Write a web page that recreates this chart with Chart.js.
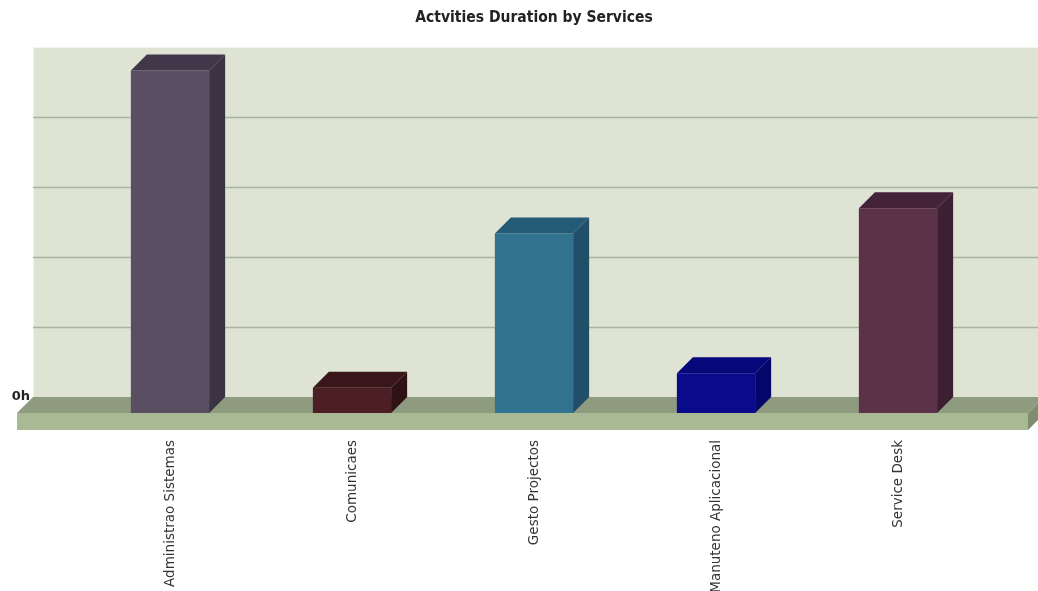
<!DOCTYPE html>
<html lang="en">
  <head>
    <meta charset="UTF-8" />
    <title>Actvities Duration by Services</title>
    <script src="https://cdn.jsdelivr.net/npm/chart.js"></script>
    <style>
      html, body { margin: 0; padding: 0; background: #fff; }
      #wrap { width: 1038px; height: 591px; }
    </style>
  </head>
  <body>
    <div id="wrap"><canvas id="services"></canvas></div>

    <script>
      // data
      const categories = ['Administrao Sistemas', 'Comunicaes', 'Gesto Projectos', 'Manuteno Aplicacional', 'Service Desk'];
      const hours = [4.9, 0.36, 2.57, 0.57, 2.93];
      const yTicks = [0, 1, 2, 3, 4, 5];
      const yTickLabels = ['0h', '', '', '', '', ''];

      // colours: front / top / side of each 3d bar
      const frontColors = ['#5a4e63', '#4c1f24', '#31728f', '#090b8b', '#5c3249'];
      const topColors = ['#40374a', '#381619', '#255a76', '#05077a', '#44233a'];
      const sideColors = ['#3b3342', '#2f1215', '#214f67', '#04066a', '#3c1f33'];

      const depth = 16;

      // back wall, grid lines and floor slab
      const wallPlugin = {
        id: 'wall',
        beforeDatasetsDraw(chart) {
          const ctx = chart.ctx;
          const area = chart.chartArea;
          const y = chart.scales.y;
          const wallLeft = area.left - 46;
          const wallRight = chart.width;
          const zero = y.getPixelForValue(0);

          ctx.save();
          // wall
          ctx.fillStyle = '#dee3d4';
          ctx.fillRect(wallLeft, y.getPixelForValue(5) - depth, wallRight - wallLeft, zero - y.getPixelForValue(5));
          ctx.strokeStyle = '#eef1e8';
          ctx.lineWidth = 1;
          ctx.beginPath();
          ctx.moveTo(wallLeft + 0.5, y.getPixelForValue(5) - depth);
          ctx.lineTo(wallLeft + 0.5, zero - depth);
          ctx.stroke();

          // grid lines on the wall
          ctx.strokeStyle = '#a9b49a';
          ctx.lineWidth = 1.5;
          yTicks.forEach((v) => {
            if (v === 0 || v === 5) return;
            const py = Math.round(y.getPixelForValue(v) - depth) + 0.5;
            ctx.beginPath();
            ctx.moveTo(wallLeft, py);
            ctx.lineTo(wallRight, py);
            ctx.stroke();
          });

          // floor: top face
          const fl = wallLeft - depth;
          const fr = area.right + 39;
          ctx.fillStyle = '#8e9b7f';
          ctx.beginPath();
          ctx.moveTo(fl, zero);
          ctx.lineTo(fl + depth, zero - depth);
          ctx.lineTo(fr + depth, zero - depth);
          ctx.lineTo(fr, zero);
          ctx.closePath();
          ctx.fill();
          // floor: front face
          ctx.fillStyle = '#a9b993';
          ctx.fillRect(fl, zero, fr - fl, 17);
          // floor: right side
          ctx.fillStyle = '#7f8c6f';
          ctx.beginPath();
          ctx.moveTo(fr, zero);
          ctx.lineTo(fr + depth, zero - depth);
          ctx.lineTo(fr + depth, zero - depth + 17);
          ctx.lineTo(fr, zero + 17);
          ctx.closePath();
          ctx.fill();
          ctx.restore();
        },
        // top and side faces of each bar
        afterDatasetsDraw(chart) {
          const ctx = chart.ctx;
          const meta = chart.getDatasetMeta(0);
          ctx.save();
          meta.data.forEach((bar, i) => {
            const left = bar.x - bar.width / 2;
            const right = bar.x + bar.width / 2;
            ctx.fillStyle = topColors[i];
            ctx.beginPath();
            ctx.moveTo(left, bar.y);
            ctx.lineTo(left + depth, bar.y - depth);
            ctx.lineTo(right + depth, bar.y - depth);
            ctx.lineTo(right, bar.y);
            ctx.closePath();
            ctx.fill();

            ctx.fillStyle = sideColors[i];
            ctx.beginPath();
            ctx.moveTo(right, bar.y);
            ctx.lineTo(right + depth, bar.y - depth);
            ctx.lineTo(right + depth, bar.base - depth);
            ctx.lineTo(right, bar.base);
            ctx.closePath();
            ctx.fill();
          });
          ctx.restore();
        },
      };

      const config = {
        type: 'bar',
        data: {
          labels: categories,
          datasets: [
            {
              label: 'Duration',
              data: hours,
              backgroundColor: frontColors,
              borderWidth: 0,
              barPercentage: 0.43,
              categoryPercentage: 1,
            },
          ],
        },
        options: {
          responsive: true,
          maintainAspectRatio: false,
          animation: false,
          layout: { padding: 0 },
          plugins: {
            legend: { display: false },
            tooltip: { enabled: false },
            title: {
              display: true,
              fullSize: false,
              text: 'Actvities Duration by Services',
              color: '#222',
              font: { family: 'DejaVu Sans Condensed', size: 15.5, weight: 'bold' },
              padding: { top: 9, bottom: 36 },
            },
          },
          scales: {
            x: {
              grid: { display: false, drawTicks: false },
              border: { display: false },
              ticks: {
                color: '#333',
                font: { family: 'DejaVu Sans', size: 13.5 },
                minRotation: 90,
                maxRotation: 90,
                padding: 27,
                autoSkip: false,
              },
              afterFit: (s) => { s.height = 178; },
            },
            y: {
              min: 0,
              max: 5,
              grid: { display: false, drawTicks: false },
              border: { display: false },
              afterBuildTicks: (s) => { s.ticks = yTicks.map((v) => ({ value: v })); },
              ticks: {
                color: '#222',
                font: { family: 'DejaVu Sans', size: 13, weight: 'bold' },
                padding: 49,
                labelOffset: -depth,
                callback: (v) => yTickLabels[yTicks.indexOf(v)],
              },
              afterFit: (s) => { s.width = 79; },
            },
            // empty right axis, only keeps room beside the wall
            yRight: {
              type: 'linear',
              position: 'right',
              grid: { display: false, drawTicks: false },
              border: { display: false },
              ticks: { display: false },
              afterFit: (s) => { s.width = 49; },
            },
          },
        },
        plugins: [wallPlugin],
      };

      new Chart(document.getElementById('services'), config);
    </script>
  </body>
</html>
